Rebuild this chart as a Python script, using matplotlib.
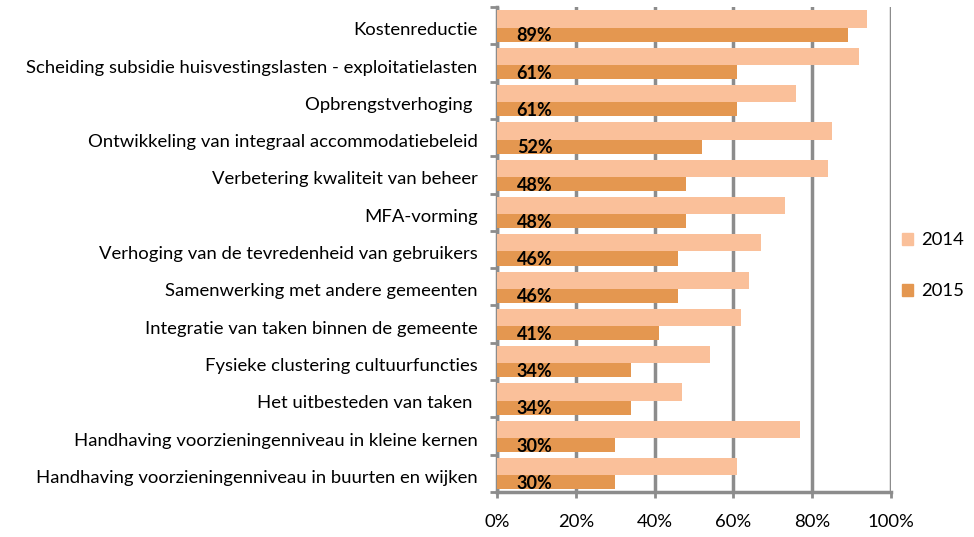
import numpy as np
import matplotlib
matplotlib.use("Agg")
import matplotlib.pyplot as plt
from matplotlib.patches import Patch

plt.rcParams['font.family'] = ['Lato', 'DejaVu Sans']

categories = [
    "Kostenreductie",
    "Scheiding subsidie huisvestingslasten - exploitatielasten",
    "Opbrengstverhoging ",
    "Ontwikkeling van integraal accommodatiebeleid",
    "Verbetering kwaliteit van beheer",
    "MFA-vorming",
    "Verhoging van de tevredenheid van gebruikers",
    "Samenwerking met andere gemeenten",
    "Integratie van taken binnen de gemeente",
    "Fysieke clustering cultuurfuncties",
    "Het uitbesteden van taken ",
    "Handhaving voorzieningenniveau in kleine kernen",
    "Handhaving voorzieningenniveau in buurten en wijken",
]
values_2014 = [94, 92, 76, 85, 84, 73, 67, 64, 62, 54, 47, 77, 61]
values_2015 = [89, 61, 61, 52, 48, 48, 46, 46, 41, 34, 34, 30, 30]
x_ticks = [0, 20, 40, 60, 80, 100]

color_2014 = '#FAC09A'
color_2015 = '#E49750'
grid_color = '#8C8C8C'

fig = plt.figure(figsize=(9.74, 5.37), dpi=100)
ax = fig.add_axes([0.5103, 0.0838, 0.4045, 0.903])

y = np.arange(len(categories))
h14, h15 = 0.46, 0.38
ax.barh(y - 0.41 + h14 / 2, values_2014, height=h14, color=color_2014, zorder=3)
ax.barh(y + 0.05 + h15 / 2, values_2015, height=h15, color=color_2015, zorder=3)

for yi, v in zip(y, values_2015):
    ax.text(5, yi + 0.27, f"{v}%", ha='left', va='center', fontsize=13,
            fontweight='bold', color='black', zorder=4)

ax.set_ylim(len(categories) - 0.5, -0.5)
ax.set_xlim(0, 100)

# category labels near the middle of each group, ticks at group boundaries
ax.set_yticks(np.arange(len(categories) + 1) - 0.5)
ax.set_yticklabels([])
ax.set_yticks(y + 0.08, minor=True)
ax.set_yticklabels(categories, minor=True, fontsize=13.3)
ax.tick_params(axis='y', which='minor', length=0, pad=14)
ax.tick_params(axis='y', which='major', length=5, width=2, color=grid_color, direction='out')

ax.set_xticks(x_ticks)
ax.set_xticklabels([f"{t}%" for t in x_ticks], fontsize=13.3)
ax.tick_params(axis='x', length=4, width=2, color=grid_color, pad=12)

ax.grid(axis='x', color=grid_color, linewidth=2.5, zorder=0)
for s in ['top', 'right']:
    ax.spines[s].set_visible(False)
for s in ['left', 'bottom']:
    ax.spines[s].set_color(grid_color)
    ax.spines[s].set_linewidth(2.5)

handles = [Patch(color=color_2014, label='2014'), Patch(color=color_2015, label='2015')]
fig.legend(handles=handles, loc='center left', bbox_to_anchor=(0.913, 0.505),
           frameon=False, fontsize=13.3, handlelength=0.6, handleheight=0.6,
           handletextpad=0.45, labelspacing=1.9, borderpad=0.2)

fig.savefig('out.png', dpi=100)
